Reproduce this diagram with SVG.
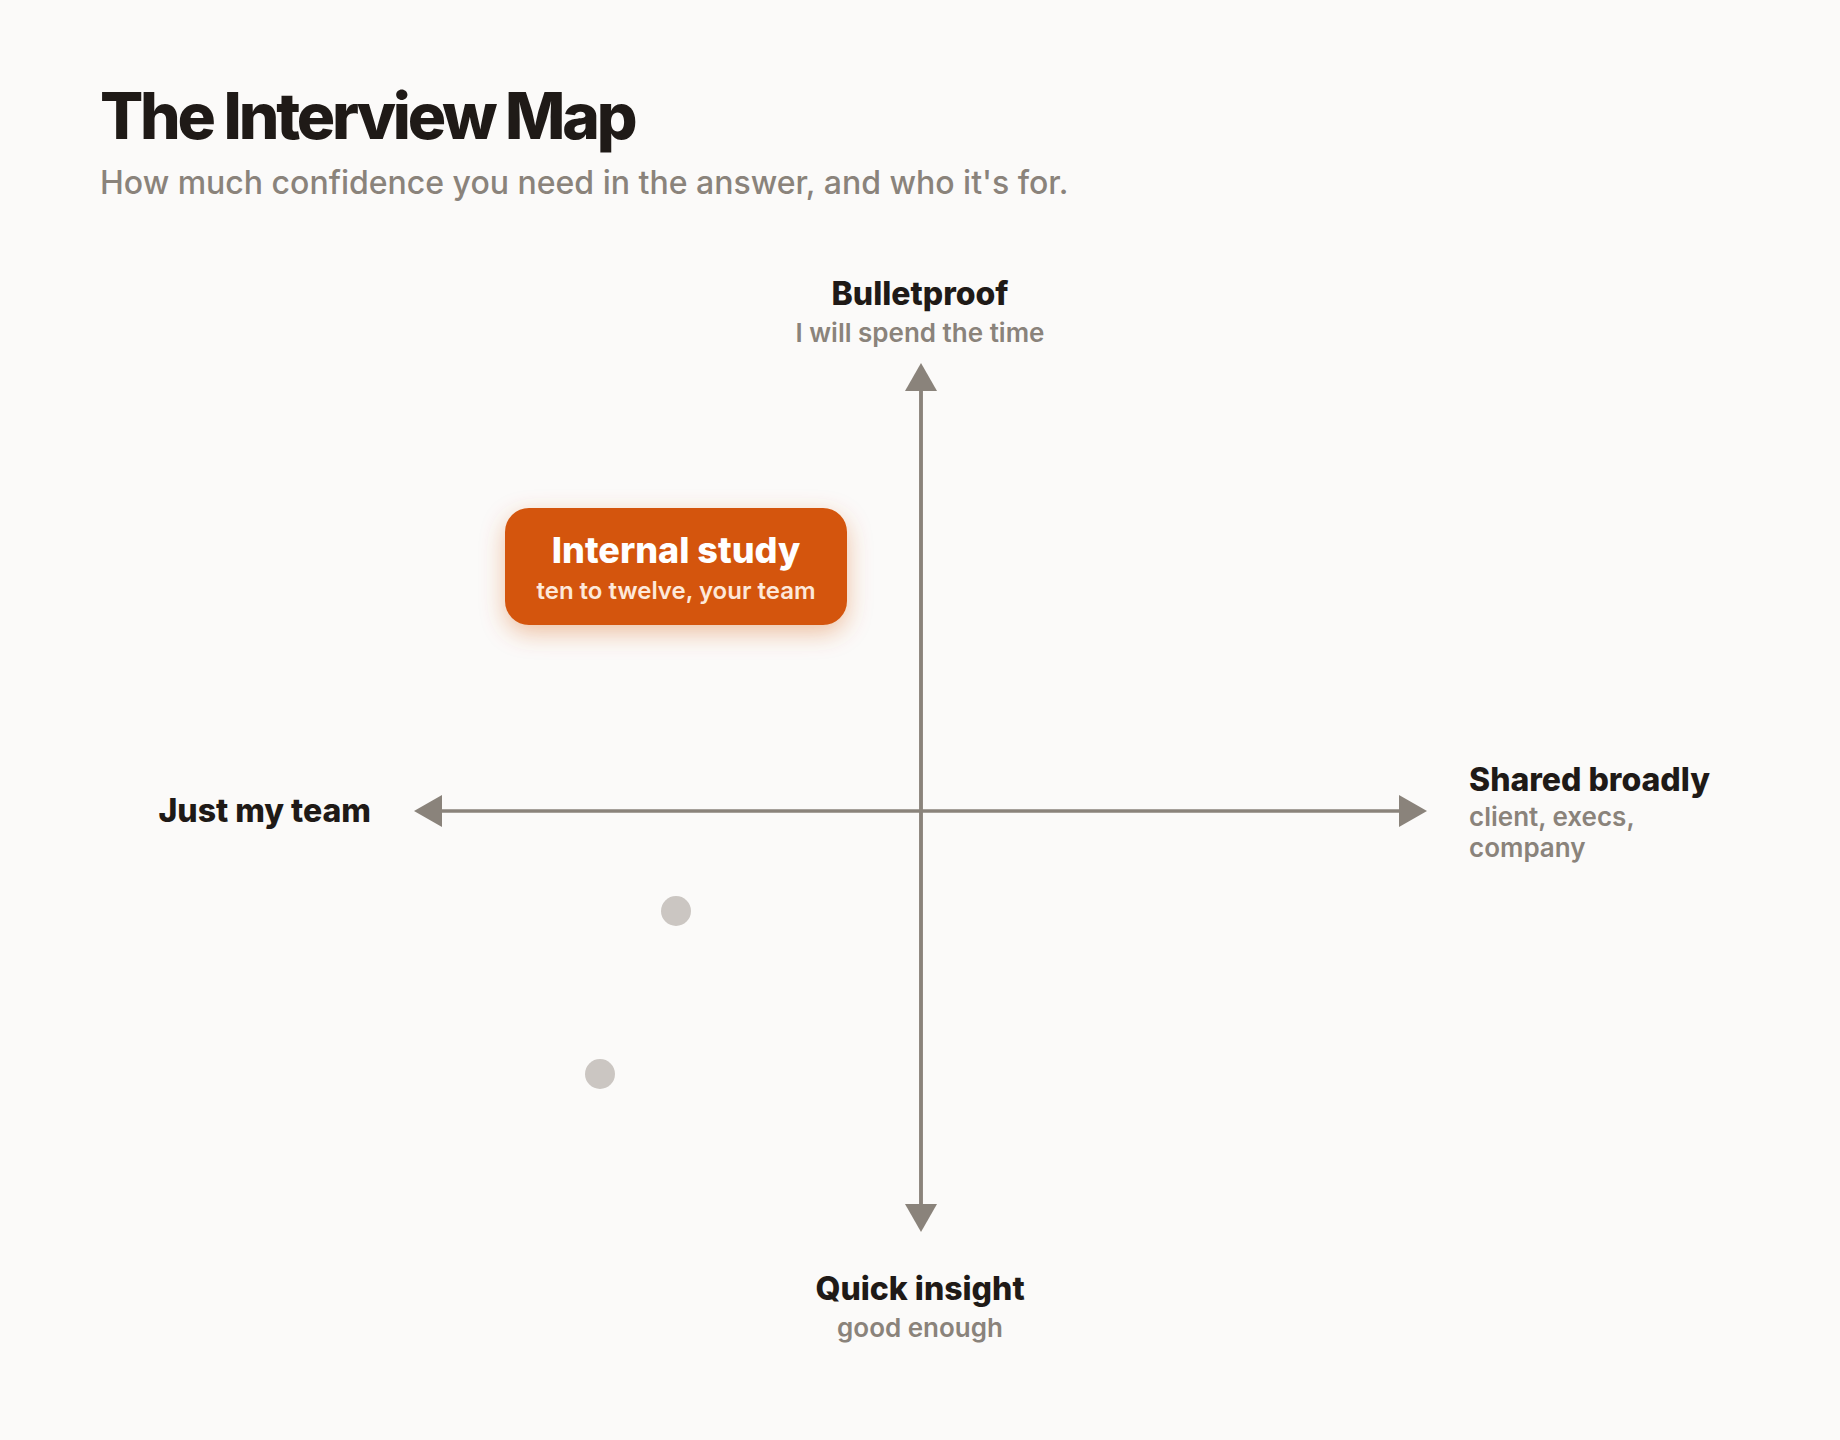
<svg xmlns="http://www.w3.org/2000/svg" width="1840" height="1440" viewBox="0 0 1840 1440">
<defs>
<style>
.t{font-family:Inter,"Noto Sans",sans-serif}
.lab{font-family:Inter,"Noto Sans",sans-serif;font-weight:800;font-size:32px;fill:#1f1a17}
.sub{font-family:Inter,"Noto Sans",sans-serif;font-weight:600;font-size:26px;fill:#8a837b}
.axis{stroke:#8a837b;stroke-width:3.5;fill:none}
.dot{fill:#cbc6c2}
</style>
<marker id="ah" viewBox="0 0 28 32" refX="1" refY="16" markerWidth="28" markerHeight="32" markerUnits="userSpaceOnUse" orient="auto">
<path d="M0,0 L28,16 L0,32 Z" fill="#8a837b"/>
</marker>
<filter id="glow" x="-30%" y="-40%" width="160%" height="190%">
<feGaussianBlur in="SourceAlpha" stdDeviation="12"/>
<feOffset dy="8" result="b"/>
<feFlood flood-color="#d4550b" flood-opacity="0.35"/>
<feComposite in2="b" operator="in"/>
<feMerge><feMergeNode/><feMergeNode in="SourceGraphic"/></feMerge>
</filter>
</defs>
<rect width="1840" height="1440" fill="#fbfaf9"/>
<g id="title">
<text class="t" x="100" y="139" font-size="64" font-weight="800" letter-spacing="-3.2" fill="#1f1a17">The Interview Map</text>
<text class="t" x="100" y="194" font-size="32" font-weight="500" fill="#8a837b">How much confidence you need in the answer, and who it's for.</text>
</g>
<g id="connectors">
<line class="axis" x1="921" y1="1205" x2="921" y2="390" marker-end="url(#ah)"/>
<line class="axis" x1="921" y1="390" x2="921" y2="1205" marker-end="url(#ah)"/>
<line class="axis" x1="921" y1="811" x2="1400" y2="811" marker-end="url(#ah)"/>
<line class="axis" x1="921" y1="811" x2="441" y2="811" marker-end="url(#ah)"/>
</g>
<g id="label-top">
<text class="lab" x="920" y="305" text-anchor="middle">Bulletproof</text>
<text class="sub" x="920" y="342" text-anchor="middle">I will spend the time</text>
</g>
<g id="label-bottom">
<text class="lab" x="920" y="1300" text-anchor="middle">Quick insight</text>
<text class="sub" x="920" y="1337" text-anchor="middle">good enough</text>
</g>
<g id="label-left">
<text class="lab" x="371" y="822" text-anchor="end">Just my team</text>
</g>
<g id="label-right">
<text class="lab" x="1469" y="791">Shared broadly</text>
<text class="sub" x="1469" y="826">client, execs,</text>
<text class="sub" x="1469" y="857">company</text>
</g>
<g id="node-internal-study">
<rect x="505" y="508" width="342" height="117" rx="24" fill="#d4550b" filter="url(#glow)"/>
<text class="t" x="676" y="563" text-anchor="middle" font-size="36" font-weight="800" fill="#ffffff">Internal study</text>
<text class="t" x="676" y="599" text-anchor="middle" font-size="24" font-weight="600" fill="#fde8da">ten to twelve, your team</text>
</g>
<g id="dot-1"><circle class="dot" cx="676" cy="911" r="15"/></g>
<g id="dot-2"><circle class="dot" cx="600" cy="1074" r="15"/></g>
</svg>
